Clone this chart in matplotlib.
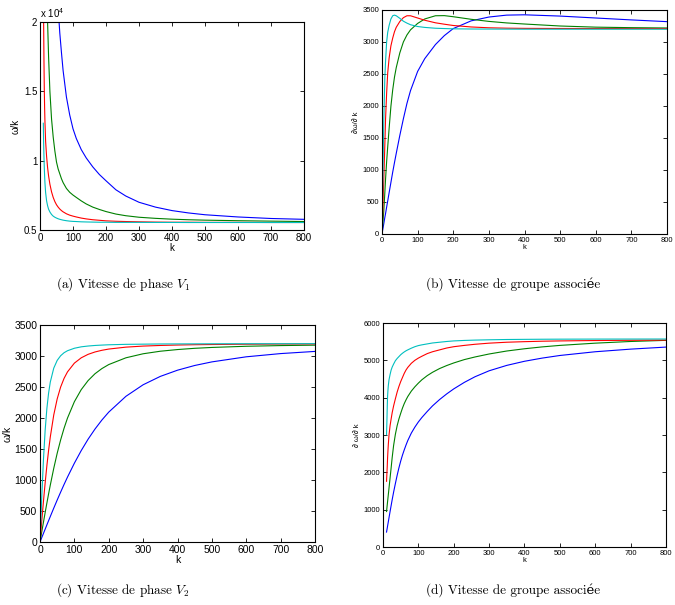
# Courbes de dispersion : vitesses de phase et de groupe (4 panneaux)
import matplotlib.pyplot as plt
from matplotlib.ticker import FuncFormatter

# --- (a) vitesse de phase V1 (m/s) ---
k_a = [10, 11, 12, 13, 14, 15, 17, 20, 23, 26, 30, 35, 40, 45, 50, 55, 60, 65, 70, 80, 90, 100, 110,
       125, 140, 160, 180, 200, 230, 260, 300, 350, 400, 450, 500, 600, 700, 800]
a_blue = [115000, 105000, 96000, 89000, 83000, 77000, 68000, 58000, 50500, 45000, 39000, 34000, 30000,
          26500, 23500, 21000, 19200, 17800, 16500, 14600, 13300, 12300, 11600, 10800, 10200, 9550,
          9000, 8550, 7900, 7450, 7000, 6650, 6400, 6230, 6100, 5940, 5830, 5770]
a_green = [45000, 41000, 37500, 34500, 32000, 30000, 26500, 23000, 20000, 17500, 15000, 13000, 11700,
           10700, 9900, 9400, 9050, 8700, 8420, 8000, 7720, 7520, 7350, 7100, 6880, 6650, 6480, 6330,
           6150, 6030, 5920, 5840, 5780, 5740, 5710, 5670, 5640, 5610]
a_red = [23000, 20000, 17200, 15200, 13800, 12800, 11400, 10300, 9500, 8900, 8300, 7750, 7350, 7050,
         6820, 6650, 6510, 6400, 6310, 6170, 6070, 6000, 5940, 5860, 5800, 5740, 5700, 5660, 5630,
         5610, 5590, 5570, 5560, 5560, 5550, 5550, 5540, 5540]
a_cyan = [12700, 11300, 10300, 9500, 8900, 8400, 7700, 7100, 6750, 6500, 6300, 6120, 6000, 5920, 5860,
          5810, 5770, 5740, 5710, 5670, 5640, 5620, 5610, 5590, 5580, 5570, 5560, 5560, 5550, 5550,
          5550, 5545, 5545, 5540, 5540, 5540, 5540, 5540]

# --- (b) vitesse de groupe associee ---
k_b = [0, 2, 5, 8, 10, 13, 16, 20, 25, 30, 35, 40, 50, 60, 70, 80, 100, 120, 150, 175, 200, 250, 300,
       350, 400, 500, 600, 700, 800]
b_blue = [0, 65, 160, 260, 320, 420, 515, 645, 805, 965, 1115, 1260, 1540, 1800, 2040, 2240, 2540, 2740,
          2960, 3100, 3210, 3330, 3390, 3420, 3425, 3405, 3375, 3345, 3318]
b_green = [0, 140, 360, 650, 860, 1130, 1360, 1650, 1995, 2250, 2450, 2600, 2830, 3000, 3110, 3190, 3290,
           3360, 3410, 3412, 3395, 3355, 3322, 3298, 3281, 3250, 3232, 3224, 3219]
b_red = [0, 330, 850, 1400, 1800, 2200, 2516, 2750, 2940, 3060, 3160, 3230, 3320, 3380, 3410, 3410, 3375,
         3340, 3300, 3278, 3258, 3235, 3222, 3216, 3213, 3211, 3210, 3210, 3210]
b_cyan = [0, 750, 1750, 2450, 2700, 3000, 3150, 3260, 3360, 3410, 3420, 3410, 3370, 3325, 3295, 3270, 3242,
          3228, 3215, 3210, 3206, 3203, 3202, 3201, 3200, 3200, 3200, 3200, 3200]

# --- (c) vitesse de phase V2 ---
k_c = [0, 2, 5, 10, 15, 20, 25, 30, 40, 50, 60, 70, 80, 100, 120, 140, 160, 180, 200, 250, 300, 350,
       400, 450, 500, 600, 700, 800]
c_blue = [0, 28, 69, 138, 207, 276, 344, 412, 546, 677, 804, 928, 1047, 1271, 1475, 1659, 1822, 1967,
          2095, 2350, 2536, 2671, 2771, 2847, 2905, 2987, 3039, 3074]
c_green = [0, 64, 160, 318, 475, 628, 776, 919, 1188, 1431, 1646, 1835, 1999, 2263, 2458, 2604, 2714,
           2797, 2862, 2971, 3036, 3077, 3104, 3124, 3138, 3157, 3168, 3175]
c_red = [0, 133, 332, 653, 954, 1231, 1478, 1696, 2049, 2308, 2499, 2639, 2744, 2885, 2971, 3027, 3065,
         3092, 3112, 3143, 3160, 3170, 3177, 3182, 3185, 3190, 3193, 3194]
c_cyan = [0, 290, 709, 1324, 1803, 2153, 2402, 2581, 2804, 2929, 3004, 3053, 3085, 3125, 3148, 3161, 3170,
          3176, 3181, 3188, 3191, 3194, 3195, 3196, 3197, 3198, 3198, 3199]

# --- (d) vitesse de groupe associee ---
k_d = [10, 11, 12, 13, 14, 15, 17, 20, 23, 26, 30, 35, 40, 45, 50, 55, 60, 65, 70, 80, 90, 100, 110,
       125, 140, 160, 180, 200, 230, 260, 300, 350, 400, 450, 500, 600, 700, 800]
d_blue = [400, 455, 510, 565, 620, 675, 785, 950, 1110, 1270, 1470, 1700, 1920, 2120, 2300, 2460, 2600,
          2730, 2850, 3050, 3210, 3350, 3470, 3630, 3780, 3950, 4100, 4235, 4410, 4560, 4720, 4865,
          4975, 5060, 5130, 5230, 5300, 5355]
d_green = [950, 1040, 1130, 1220, 1310, 1400, 1580, 1850, 2120, 2400, 2720, 3020, 3250, 3430, 3580, 3720,
           3840, 3940, 4030, 4175, 4290, 4390, 4480, 4590, 4680, 4780, 4860, 4930, 5020, 5090, 5170,
           5250, 5310, 5360, 5400, 5460, 5505, 5535]
d_red = [1760, 1960, 2160, 2400, 2580, 2740, 3000, 3250, 3430, 3600, 3780, 3970, 4150, 4300, 4430, 4540,
         4650, 4740, 4810, 4920, 5000, 5060, 5110, 5180, 5230, 5280, 5330, 5365, 5400, 5430, 5460,
         5485, 5500, 5512, 5520, 5530, 5537, 5542]
d_cyan = [3010, 3350, 3750, 4050, 4200, 4320, 4480, 4620, 4740, 4820, 4900, 4990, 5050, 5100, 5150, 5190,
          5225, 5255, 5280, 5325, 5365, 5395, 5415, 5440, 5465, 5485, 5505, 5520, 5533, 5542, 5550,
          5558, 5562, 5565, 5567, 5569, 5570, 5571]

couleurs = ['#0000ff', '#008000', '#ff0000', '#00bfbf']

plt.rcParams['font.family'] = ['Liberation Sans', 'DejaVu Sans']
plt.rcParams['mathtext.fontset'] = 'cm'

fig = plt.figure(figsize=(6.75, 6.05), dpi=100)

def panneau(rect, k, series, ylim, yticks, fs, ylabel):
    ax = fig.add_axes(rect)
    for s, col in zip(series, couleurs):
        ax.plot(k, s, color=col, lw=0.8)
    ax.set_xlim(0, 800)
    ax.set_ylim(*ylim)
    ax.set_xticks(range(0, 801, 100))
    ax.set_yticks(yticks)
    ax.tick_params(direction='in', top=True, right=True, labelsize=fs, length=3, width=0.6, pad=2)
    for sp in ax.spines.values():
        sp.set_linewidth(0.8)
    ax.set_xlabel('k', fontsize=fs, labelpad=0)
    ax.set_ylabel(ylabel, fontsize=fs, labelpad=2)
    return ax

ax_a = panneau([40/675, 1-230/605, 264/675, 208/605], k_a, [a_blue, a_green, a_red, a_cyan],
               (5000, 20000), [5000, 10000, 15000, 20000], 7, 'ω/k')
ax_a.yaxis.set_major_formatter(FuncFormatter(lambda v, p: f'{v/1e4:g}'))
ax_a.text(0, 1.01, r'x $\mathregular{10^{4}}$', transform=ax_a.transAxes, fontsize=7,
          va='bottom', ha='left')

panneau([382/675, 1-234/605, 285/675, 224/605], k_b, [b_blue, b_green, b_red, b_cyan],
        (0, 3500), range(0, 3501, 500), 5.5, '∂ω/∂ k')

ax_c = panneau([40/675, 1-542/605, 275/675, 217/605], k_c, [c_blue, c_green, c_red, c_cyan],
               (0, 3500), range(0, 3501, 500), 7.5, 'ω/k')
ax_c.yaxis.set_label_coords(-0.098, 0.5)

panneau([383/675, 1-547/605, 283/675, 224/605], k_d, [d_blue, d_green, d_red, d_cyan],
        (0, 6000), range(0, 6001, 1000), 5.5, '∂ ω/∂ k')

legendes = [(123, 284, r'(a) Vitesse de phase $V_1$'),
            (513, 284, '(b) Vitesse de groupe associée'),
            (123, 590, r'(c) Vitesse de phase $V_2$'),
            (513, 590, '(d) Vitesse de groupe associée')]
for x, y, t in legendes:
    fig.text(x/675, 1-y/605, t, ha='center', va='center', fontsize=9.5,
             family=['cmr10', 'DejaVu Serif'])

fig.savefig('out.png', dpi=100)
